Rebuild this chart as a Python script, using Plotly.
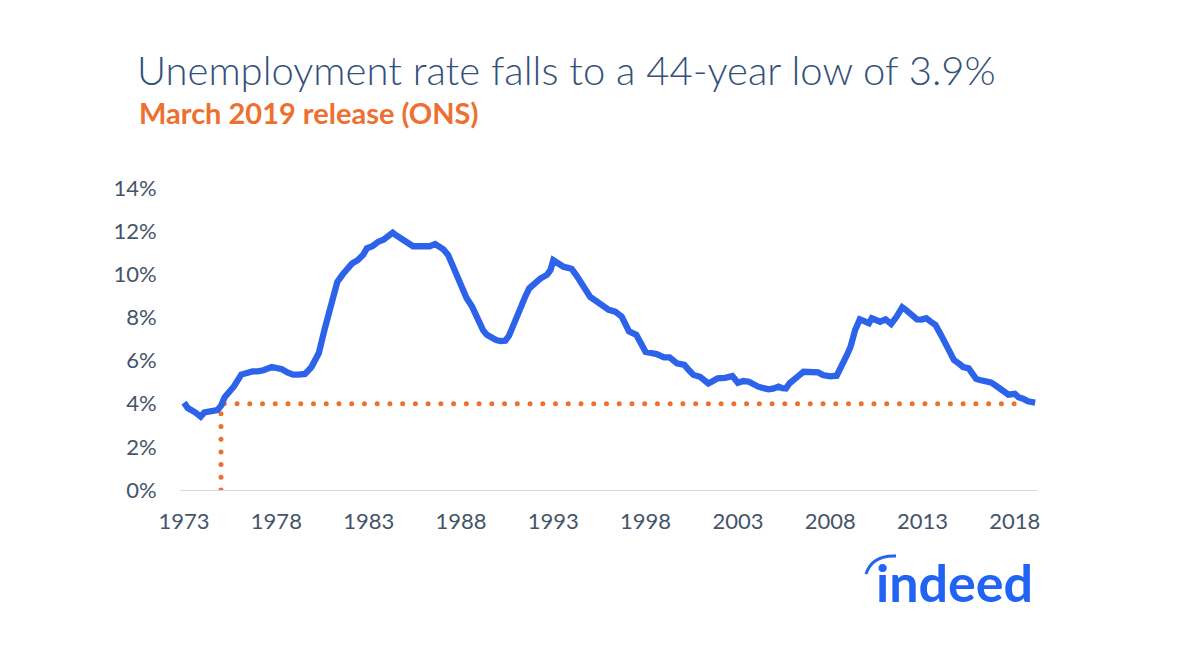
import numpy as np
import plotly.graph_objects as go

# ---- data ----
years = [1973.0, 1973.2, 1973.6, 1973.9, 1974.1, 1974.5, 1974.8, 1975.0, 1975.2, 1975.5,
         1975.7, 1976.1, 1976.4, 1976.7, 1977.0, 1977.3, 1977.75, 1978.0, 1978.3, 1978.6,
         1978.9, 1979.2, 1979.55, 1979.9, 1980.1, 1980.3, 1980.6, 1980.8, 1981.0, 1981.3,
         1981.6, 1981.9, 1982.1, 1982.4, 1982.7, 1982.9, 1983.2, 1983.5, 1983.8, 1984.1,
         1984.3, 1984.5, 1984.7, 1985.0, 1985.4, 1985.8, 1986.3, 1986.6, 1986.8, 1987.05,
         1987.3, 1987.5, 1987.75, 1988.0, 1988.3, 1988.6, 1988.8, 1989.0, 1989.2, 1989.4,
         1989.65, 1989.9, 1990.15, 1990.4, 1990.6, 1990.8, 1991.05, 1991.3, 1991.5, 1991.7,
         1992.0, 1992.3, 1992.65, 1992.85, 1993.0, 1993.25, 1993.55, 1993.8, 1994.0, 1994.25,
         1994.5, 1994.75, 1995.0, 1995.25, 1995.5, 1995.75, 1996.0, 1996.35, 1996.7, 1996.9,
         1997.1, 1997.5, 1997.75, 1998.0, 1998.3, 1998.6, 1999.0, 1999.3, 1999.7, 2000.1,
         2000.35, 2000.6, 2000.95, 2001.2, 2001.4, 2001.65, 2001.9, 2002.3, 2002.7, 2003.0,
         2003.3, 2003.6, 2003.85, 2004.1, 2004.4, 2004.65, 2004.9, 2005.2, 2005.4, 2005.6,
         2005.8, 2006.0, 2006.3, 2006.55, 2006.8, 2007.1, 2007.35, 2007.6, 2007.8, 2008.0,
         2008.35, 2008.55, 2008.7, 2008.9, 2009.1, 2009.35, 2009.6, 2009.85, 2010.1, 2010.25,
         2010.5, 2010.7, 2011.0, 2011.3, 2011.6, 2011.9, 2012.1, 2012.3, 2012.5, 2012.7,
         2012.95, 2013.2, 2013.45, 2013.7, 2014.0, 2014.2, 2014.4, 2014.55, 2014.7, 2015.0,
         2015.2, 2015.5, 2015.7, 2015.9, 2016.1, 2016.3, 2016.7, 2016.95, 2017.2, 2017.45,
         2017.65, 2018.0, 2018.2, 2018.45, 2018.7, 2019.1]
rates = [4.05, 3.8, 3.6, 3.4, 3.6, 3.65, 3.7, 3.9, 4.3, 4.6,
         4.8, 5.35, 5.45, 5.5, 5.5, 5.55, 5.7, 5.68, 5.6, 5.45,
         5.35, 5.35, 5.38, 5.7, 6.0, 6.35, 7.4, 8.1, 8.8, 9.65,
         10.0, 10.35, 10.5, 10.65, 10.9, 11.2, 11.3, 11.5, 11.6, 11.8,
         11.93, 11.8, 11.67, 11.5, 11.3, 11.3, 11.3, 11.4, 11.3, 11.15,
         10.9, 10.5, 10.0, 9.4, 8.9, 8.5, 8.1, 7.7, 7.4, 7.2,
         7.05, 6.95, 6.9, 6.92, 7.15, 7.6, 8.1, 8.6, 9.0, 9.35,
         9.6, 9.8, 9.97, 10.2, 10.65, 10.5, 10.35, 10.3, 10.25, 9.95,
         9.65, 9.35, 8.95, 8.8, 8.65, 8.5, 8.35, 8.27, 8.04, 7.7,
         7.35, 7.19, 6.8, 6.4, 6.35, 6.3, 6.15, 6.15, 5.87, 5.8,
         5.55, 5.33, 5.25, 5.1, 4.94, 5.05, 5.18, 5.2, 5.28, 4.97,
         5.05, 5.02, 4.9, 4.79, 4.72, 4.67, 4.7, 4.79, 4.72, 4.71,
         4.95, 5.13, 5.3, 5.48, 5.45, 5.48, 5.45, 5.33, 5.3, 5.27,
         5.3, 5.6, 5.87, 6.25, 6.64, 7.42, 7.91, 7.85, 7.73, 7.96,
         7.85, 7.8, 7.91, 7.7, 8.04, 8.47, 8.35, 8.22, 8.0, 7.91,
         7.9, 7.96, 7.8, 7.65, 7.19, 6.9, 6.57, 6.25, 6.03, 5.84,
         5.7, 5.64, 5.4, 5.15, 5.1, 5.07, 4.99, 4.85, 4.70, 4.55,
         4.42, 4.46, 4.3, 4.23, 4.11, 4.05]

tick_years = [1973, 1978, 1983, 1988, 1993, 1998, 2003, 2008, 2013, 2018]
y_ticks = [0, 2, 4, 6, 8, 10, 12, 14]
y_tick_labels = ["0%", "2%", "4%", "6%", "8%", "10%", "12%", "14%"]

ref_level = 4.0        # current rate level (dotted reference)
ref_year = 1975.0      # last time the rate was this low
ref_end_year = 2018.0  # end of horizontal reference

title_text = "Unemployment rate falls to a 44-year low of 3.9%"
subtitle_text = "March 2019 release (ONS)"

BLUE = "#2D63E8"
ORANGE = "#EE7030"
TEXT = "#44546A"
FONT = "Lato, Open Sans, sans-serif"

fig = go.Figure()

# dotted reference lines as round dots
h_x = np.arange(ref_year + 0.18, ref_end_year + 0.01, 0.69)
fig.add_trace(go.Scatter(x=h_x, y=[ref_level] * len(h_x), mode="markers",
                         marker=dict(size=5, color=ORANGE), hoverinfo="skip",
                         showlegend=False))
v_y = np.arange(0, ref_level - 0.3, 0.589)
fig.add_trace(go.Scatter(x=[ref_year] * len(v_y), y=v_y, mode="markers",
                         marker=dict(size=5, color=ORANGE), hoverinfo="skip",
                         showlegend=False))

fig.add_trace(go.Scatter(x=years, y=rates, mode="lines",
                         line=dict(color=BLUE, width=6.3), showlegend=False))

fig.update_layout(
    width=1200, height=648,
    margin=dict(l=180, r=163, t=188, b=158),
    paper_bgcolor="white", plot_bgcolor="white",
    font=dict(family=FONT, color=TEXT),
    xaxis=dict(range=[1972.78, 2019.2], tickvals=tick_years,
               ticktext=[str(t) for t in tick_years],
               showgrid=False, zeroline=False, showline=False,
               ticks="outside", ticklen=12, tickcolor="rgba(0,0,0,0)",
               tickfont=dict(size=22, color=TEXT, family=FONT),
               fixedrange=True),
    yaxis=dict(range=[0, 14], tickvals=y_ticks, ticktext=y_tick_labels,
               showgrid=False, zeroline=True, zerolinecolor="#D9D9D9", zerolinewidth=1,
               showline=False,
               ticks="outside", ticklen=18, tickcolor="rgba(0,0,0,0)",
               tickfont=dict(size=22, color=TEXT, family=FONT),
               fixedrange=True),
    title=dict(text=title_text, xref="container", yref="container",
               x=137 / 1200, xanchor="left", y=1 - 71 / 648, yanchor="middle",
               font=dict(size=40, color="#34507A", family=FONT, weight=300)),
)

fig.add_annotation(text="<b>" + subtitle_text + "</b>", xref="paper", yref="paper",
                   x=(137 - 180) / 857, y=(490 - 113) / 302, xanchor="left",
                   yanchor="middle", showarrow=False,
                   font=dict(size=29, color=ORANGE, family=FONT))

# indeed logo
fig.add_annotation(text="<b>indeed</b>", xref="paper", yref="paper",
                   x=(1035 - 180) / 857, y=(490 - 582) / 302, xanchor="right",
                   yanchor="middle", showarrow=False,
                   font=dict(size=52, color="#2164F3", family=FONT))

def px(xp, yp):
    return (xp - 180) / 857, (490 - yp) / 302

x0, y0 = px(866, 574)
x1, y1 = px(872, 555)
x2, y2 = px(896, 556)
fig.add_shape(type="path", xref="paper", yref="paper",
              path=f"M {x0} {y0} Q {x1} {y1} {x2} {y2}",
              line=dict(color="#2164F3", width=3))

fig.write_html("out.html")
